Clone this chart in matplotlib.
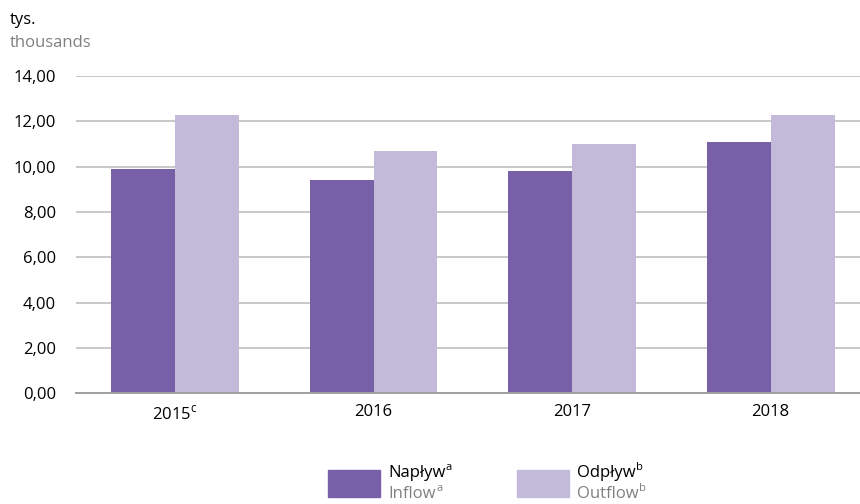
import numpy as np
import matplotlib.pyplot as plt
from matplotlib.patches import Rectangle

plt.rcParams['font.family'] = ['Open Sans', 'DejaVu Sans']
plt.rcParams['mathtext.fontset'] = 'custom'
plt.rcParams['mathtext.rm'] = 'Open Sans'

# data
years = ['2015', '2016', '2017', '2018']
year_marks = ['c', '', '', '']
inflow = [9.9, 9.4, 9.8, 11.1]     # Napływ
outflow = [12.3, 10.7, 11.0, 12.3]  # Odpływ
yticks = [0, 2, 4, 6, 8, 10, 12, 14]

c_in = '#7760a8'
c_out = '#c3bad9'
grey = '#808080'

fig = plt.figure(figsize=(8.6, 5.04), dpi=100)
ax = fig.add_axes([0.088, 0.22, 0.912, 0.629])

x = np.arange(len(years))
w = 0.322
ax.bar(x - w / 2, inflow, w, color=c_in, edgecolor='none', zorder=3)
ax.bar(x + w / 2, outflow, w, color=c_out, edgecolor='none', zorder=3)

ax.set_xlim(-0.5, 3.45)
ax.set_ylim(0, 14)
ax.set_yticks(yticks)
ax.set_yticklabels(['%d,00' % v for v in yticks])
ax.set_xticks(x)
ax.set_xticklabels([y + (r'$^{\mathregular{%s}}$' % m if m else '') for y, m in zip(years, year_marks)])
ax.tick_params(length=0, labelsize=12, colors='black')
ax.tick_params(axis='y', pad=14)
ax.tick_params(axis='x', pad=8)
ax.grid(axis='y', color='#c8c8c8', linewidth=1.4, zorder=0)
for s in ['top', 'right', 'left']:
    ax.spines[s].set_visible(False)
ax.spines['bottom'].set_color('#a0a0a0')
ax.spines['bottom'].set_linewidth(1.4)
ax.spines['bottom'].set_zorder(4)

# unit label
fig.text(10 / 860, 1 - 20 / 504, 'tys.', fontsize=12, va='center', ha='left')
fig.text(10 / 860, 1 - 43 / 504, 'thousands', fontsize=12, va='center', ha='left', color=grey)

# legend
renderer = fig.canvas.get_renderer()

def txt_sup(xp, yp, s, sup, col):
    t = fig.text(xp / 860, 1 - yp / 504, s, fontsize=12, va='baseline', ha='left', color=col)
    bb = t.get_window_extent(renderer)
    fig.text((bb.x1 + 0.5) / 860, 1 - (yp - 7) / 504, sup, fontsize=8,
             va='baseline', ha='left', color=col)

def leg(x0, col, pl, en, sup):
    fig.patches.append(Rectangle((x0 / 860, 1 - 497 / 504), 52 / 860, 27 / 504,
                                 transform=fig.transFigure, color=col))
    txt_sup(x0 + 60, 477, pl, sup, 'black')
    txt_sup(x0 + 60, 498, en, sup, grey)

leg(328, c_in, 'Napływ', 'Inflow', 'a')
leg(517, c_out, 'Odpływ', 'Outflow', 'b')

fig.savefig('out.png', dpi=100)
